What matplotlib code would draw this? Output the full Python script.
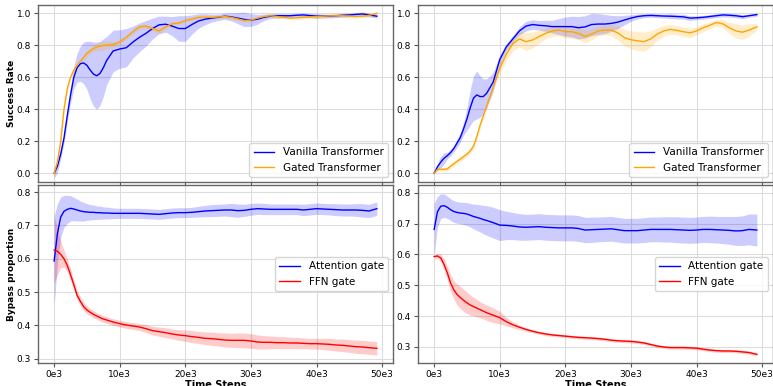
import numpy as np
import matplotlib
matplotlib.use("Agg")
import matplotlib.pyplot as plt
from matplotlib.ticker import FuncFormatter

# time steps (in thousands)
steps_k = [0, 0.5, 1, 1.5, 2, 2.5, 3, 3.5, 4, 4.5, 5, 5.5, 6, 6.5, 7, 7.5, 8,
           9, 10, 11, 12, 13, 14, 15, 16, 17, 18, 19, 20,
           21, 22, 23, 24, 25, 26, 27, 28, 29, 30, 31, 32,
           33, 34, 35, 36, 37, 38, 39, 40, 41, 42, 43, 44,
           45, 46, 47, 48, 49.2]

# ---- top left: success rate ----
tl_vanilla = [0.00, 0.045, 0.12, 0.22, 0.36, 0.49, 0.60, 0.66, 0.685, 0.69, 0.675, 0.645, 0.62, 0.61, 0.625, 0.66, 0.705,
              0.765, 0.777, 0.785, 0.82, 0.85, 0.875, 0.905, 0.928, 0.932, 0.92, 0.905, 0.905,
              0.93, 0.952, 0.963, 0.97, 0.975, 0.982, 0.978, 0.97, 0.962, 0.958, 0.963, 0.975,
              0.983, 0.985, 0.985, 0.985, 0.988, 0.99, 0.986, 0.983, 0.983, 0.983, 0.985, 0.988,
              0.99, 0.993, 0.996, 0.99, 0.982]
tl_vanilla_sd = [0.03, 0.04, 0.03, 0.03, 0.04, 0.05, 0.07, 0.09, 0.11, 0.13, 0.15, 0.18, 0.20, 0.21, 0.20, 0.18, 0.15,
                 0.13, 0.12, 0.12, 0.10, 0.09, 0.08, 0.065, 0.055, 0.05, 0.06, 0.08, 0.08,
                 0.06, 0.045, 0.035, 0.025, 0.02, 0.02, 0.025, 0.035, 0.045, 0.04, 0.03, 0.02,
                 0.015, 0.015, 0.012, 0.012, 0.012, 0.012, 0.012, 0.015, 0.012, 0.012, 0.012, 0.012,
                 0.012, 0.012, 0.012, 0.012, 0.012]
tl_gated = [0.0, 0.07, 0.20, 0.40, 0.53, 0.60, 0.645, 0.675, 0.70, 0.725, 0.75, 0.765, 0.78, 0.79, 0.795, 0.80, 0.80,
            0.805, 0.82, 0.85, 0.885, 0.915, 0.92, 0.905, 0.89, 0.915, 0.935, 0.94, 0.955,
            0.965, 0.975, 0.975, 0.975, 0.977, 0.98, 0.975, 0.965, 0.955, 0.958, 0.97, 0.98,
            0.985, 0.98, 0.975, 0.97, 0.972, 0.975, 0.978, 0.98, 0.982, 0.984, 0.985, 0.985,
            0.983, 0.98, 0.982, 0.987, 1.0]
tl_gated_sd = [0.03, 0.03, 0.02, 0.02, 0.02, 0.015, 0.015, 0.015, 0.015, 0.015, 0.02, 0.02, 0.02, 0.025, 0.03, 0.03, 0.025,
               0.02, 0.015, 0.015, 0.015, 0.015, 0.015, 0.015, 0.02, 0.015, 0.01, 0.01, 0.01,
               0.01, 0.01, 0.01, 0.01, 0.01, 0.01, 0.012, 0.012, 0.012, 0.01, 0.01, 0.01,
               0.01, 0.01, 0.01, 0.01, 0.01, 0.01, 0.01, 0.01, 0.01, 0.01, 0.01, 0.01,
               0.01, 0.01, 0.01, 0.01, 0.01]

# ---- top right: success rate ----
tr_vanilla = [0.0, 0.04, 0.07, 0.094, 0.11, 0.13, 0.155, 0.19, 0.225, 0.28, 0.34, 0.41, 0.47, 0.49, 0.48, 0.48, 0.50,
              0.57, 0.71, 0.79, 0.84, 0.89, 0.92, 0.93, 0.925, 0.922, 0.917, 0.917, 0.917,
              0.917, 0.91, 0.915, 0.93, 0.933, 0.933, 0.937, 0.945, 0.958, 0.97, 0.98, 0.985,
              0.987, 0.985, 0.983, 0.982, 0.98, 0.978, 0.97, 0.972, 0.975, 0.98, 0.985, 0.99,
              0.988, 0.985, 0.979, 0.985, 0.992]
tr_vanilla_sd = [0.0, 0.02, 0.035, 0.035, 0.02, 0.02, 0.02, 0.025, 0.03, 0.04, 0.07, 0.11, 0.14, 0.15, 0.13, 0.11, 0.09,
                 0.06, 0.03, 0.02, 0.02, 0.025, 0.03, 0.03, 0.03, 0.035, 0.04, 0.05, 0.06,
                 0.065, 0.07, 0.07, 0.07, 0.065, 0.06, 0.05, 0.04, 0.03, 0.02, 0.015, 0.012,
                 0.012, 0.012, 0.012, 0.015, 0.015, 0.015, 0.015, 0.012, 0.012, 0.012, 0.012, 0.012,
                 0.012, 0.012, 0.012, 0.01, 0.01]
tr_gated = [0.0, 0.025, 0.025, 0.025, 0.028, 0.045, 0.06, 0.075, 0.09, 0.105, 0.12, 0.14, 0.17, 0.23, 0.30, 0.36, 0.42,
            0.54, 0.656, 0.745, 0.81, 0.84, 0.823, 0.833, 0.855, 0.875, 0.89, 0.896, 0.885,
            0.885, 0.875, 0.855, 0.87, 0.89, 0.895, 0.895, 0.878, 0.848, 0.835, 0.828, 0.823,
            0.84, 0.87, 0.89, 0.90, 0.893, 0.885, 0.878, 0.89, 0.91, 0.925, 0.942, 0.935,
            0.91, 0.89, 0.882, 0.895, 0.916]
tr_gated_sd = [0.0, 0.01, 0.01, 0.012, 0.012, 0.015, 0.015, 0.015, 0.015, 0.015, 0.015, 0.015, 0.02, 0.02, 0.02, 0.02, 0.02,
               0.02, 0.03, 0.04, 0.045, 0.05, 0.055, 0.05, 0.04, 0.035, 0.035, 0.035, 0.04,
               0.04, 0.04, 0.04, 0.035, 0.03, 0.03, 0.035, 0.045, 0.05, 0.055, 0.06, 0.06,
               0.05, 0.04, 0.035, 0.03, 0.03, 0.03, 0.03, 0.025, 0.025, 0.02, 0.02, 0.025,
               0.035, 0.045, 0.045, 0.04, 0.02]

# ---- bottom left: bypass proportion ----
bl_attn = [0.593, 0.675, 0.725, 0.742, 0.748, 0.751, 0.749, 0.746, 0.743, 0.741, 0.74, 0.739, 0.739, 0.738, 0.738, 0.737, 0.737,
           0.736, 0.736, 0.736, 0.736, 0.736, 0.735, 0.734, 0.733, 0.735, 0.737, 0.738, 0.738,
           0.739, 0.741, 0.743, 0.744, 0.745, 0.746, 0.746, 0.744, 0.745, 0.748, 0.75, 0.749,
           0.748, 0.748, 0.748, 0.748, 0.748, 0.746, 0.748, 0.75, 0.749, 0.748, 0.747, 0.746,
           0.746, 0.746, 0.745, 0.743, 0.75]
bl_attn_sd = [0.135, 0.09, 0.06, 0.048, 0.042, 0.038, 0.035, 0.033, 0.03, 0.028, 0.025, 0.023, 0.022, 0.02, 0.02, 0.018, 0.018,
              0.016, 0.015, 0.015, 0.015, 0.015, 0.015, 0.015, 0.015, 0.015, 0.015, 0.015, 0.015,
              0.015, 0.016, 0.017, 0.018, 0.018, 0.018, 0.02, 0.02, 0.018, 0.018, 0.017, 0.017,
              0.016, 0.016, 0.016, 0.016, 0.016, 0.017, 0.017, 0.017, 0.017, 0.017, 0.018, 0.018,
              0.018, 0.019, 0.02, 0.02, 0.02]
bl_ffn = [0.626, 0.622, 0.613, 0.600, 0.580, 0.552, 0.522, 0.49, 0.472, 0.456, 0.446, 0.439, 0.433, 0.428, 0.423, 0.419, 0.416,
          0.41, 0.405, 0.401, 0.398, 0.395, 0.39, 0.384, 0.381, 0.378, 0.374, 0.371, 0.369,
          0.366, 0.364, 0.361, 0.36, 0.358, 0.356, 0.355, 0.355, 0.355, 0.353, 0.35, 0.349,
          0.349, 0.348, 0.348, 0.347, 0.347, 0.346, 0.345, 0.345, 0.344, 0.343, 0.341, 0.34,
          0.338, 0.336, 0.335, 0.333, 0.331]
bl_ffn_sd = [0.1, 0.07, 0.04, 0.025, 0.02, 0.018, 0.015, 0.014, 0.013, 0.012, 0.012, 0.011, 0.011, 0.01, 0.01, 0.01, 0.01,
             0.01, 0.01, 0.01, 0.01, 0.01, 0.012, 0.013, 0.014, 0.015, 0.015, 0.016, 0.017,
             0.018, 0.018, 0.019, 0.02, 0.02, 0.021, 0.021, 0.022, 0.022, 0.022, 0.021, 0.02,
             0.019, 0.018, 0.018, 0.017, 0.017, 0.016, 0.016, 0.016, 0.017, 0.018, 0.018, 0.019,
             0.019, 0.02, 0.02, 0.02, 0.02]

# ---- bottom right: bypass proportion ----
br_attn = [0.681, 0.738, 0.756, 0.758, 0.753, 0.745, 0.739, 0.736, 0.734, 0.733, 0.731, 0.727, 0.723, 0.72, 0.717, 0.713, 0.71,
           0.703, 0.695, 0.694, 0.692, 0.689, 0.688, 0.689, 0.69, 0.688, 0.687, 0.686, 0.686,
           0.686, 0.684, 0.679, 0.68, 0.681, 0.682, 0.683, 0.68, 0.677, 0.677, 0.677, 0.679,
           0.681, 0.681, 0.681, 0.681, 0.68, 0.679, 0.678, 0.679, 0.681, 0.681, 0.68, 0.679,
           0.678, 0.676, 0.677, 0.681, 0.679]
br_attn_sd = [0.085, 0.05, 0.04, 0.038, 0.036, 0.035, 0.035, 0.035, 0.035, 0.036, 0.037, 0.038, 0.04, 0.042, 0.044, 0.046, 0.048,
              0.05, 0.05, 0.046, 0.044, 0.043, 0.042, 0.042, 0.042, 0.042, 0.042, 0.042, 0.042,
              0.042, 0.042, 0.041, 0.041, 0.04, 0.04, 0.04, 0.04, 0.04, 0.04, 0.04, 0.04,
              0.04, 0.04, 0.041, 0.041, 0.042, 0.042, 0.042, 0.042, 0.042, 0.043, 0.043, 0.044,
              0.045, 0.047, 0.048, 0.05, 0.052]
br_ffn = [0.593, 0.595, 0.589, 0.568, 0.541, 0.508, 0.485, 0.47, 0.46, 0.451, 0.443, 0.436, 0.431, 0.426, 0.421, 0.416, 0.411,
          0.403, 0.395, 0.382, 0.372, 0.364, 0.357, 0.351, 0.346, 0.342, 0.339, 0.337, 0.335,
          0.333, 0.331, 0.33, 0.329, 0.327, 0.325, 0.322, 0.32, 0.319, 0.318, 0.316, 0.313,
          0.308, 0.303, 0.30, 0.298, 0.298, 0.298, 0.297, 0.296, 0.293, 0.29, 0.288, 0.287,
          0.287, 0.286, 0.284, 0.282, 0.276]
br_ffn_sd = [0.003, 0.008, 0.012, 0.018, 0.022, 0.026, 0.03, 0.034, 0.036, 0.036, 0.035, 0.033, 0.03, 0.028, 0.026, 0.025, 0.025,
             0.024, 0.02, 0.014, 0.01, 0.007, 0.006, 0.005, 0.005, 0.005, 0.005, 0.005, 0.005,
             0.005, 0.005, 0.005, 0.005, 0.005, 0.005, 0.005, 0.005, 0.005, 0.005, 0.005, 0.005,
             0.005, 0.005, 0.005, 0.005, 0.005, 0.005, 0.005, 0.005, 0.005, 0.005, 0.005, 0.005,
             0.005, 0.005, 0.005, 0.005, 0.005]

x = np.array(steps_k) * 1000

fig = plt.figure(figsize=(7.73, 3.86), dpi=100)
W, H = 773, 386
def box(l, t, r, b):
    return [l / W, 1 - b / H, (r - l) / W, (b - t) / H]

ax_tl = fig.add_axes(box(38, 5, 393, 182))
ax_tr = fig.add_axes(box(418, 5, 773, 182), sharex=ax_tl)
ax_bl = fig.add_axes(box(38, 185, 393, 363), sharex=ax_tl)
ax_br = fig.add_axes(box(418, 185, 773, 363), sharex=ax_tl)

def band(ax, mean, sd, color, label):
    m = np.array(mean)
    s = np.array(sd)
    ax.plot(x, m, color=color, lw=1.0, label=label)
    ax.fill_between(x, m - s, m + s, color=color, alpha=0.2, lw=0)

band(ax_tl, tl_vanilla, tl_vanilla_sd, 'blue', 'Vanilla Transformer')
band(ax_tl, tl_gated, tl_gated_sd, 'orange', 'Gated Transformer')
band(ax_tr, tr_vanilla, tr_vanilla_sd, 'blue', 'Vanilla Transformer')
band(ax_tr, tr_gated, tr_gated_sd, 'orange', 'Gated Transformer')
band(ax_bl, bl_attn, bl_attn_sd, 'blue', 'Attention gate')
band(ax_bl, bl_ffn, bl_ffn_sd, 'red', 'FFN gate')
band(ax_br, br_attn, br_attn_sd, 'blue', 'Attention gate')
band(ax_br, br_ffn, br_ffn_sd, 'red', 'FFN gate')

fmt = FuncFormatter(lambda v, p: f'{int(round(v / 1000))}e3')
for ax in (ax_tl, ax_tr, ax_bl, ax_br):
    ax.grid(True, color='#dddddd', lw=0.8)
    ax.set_axisbelow(True)
    ax.tick_params(labelsize=6.5, color='#555555', length=3, width=0.8, pad=2)
    for sp in ax.spines.values():
        sp.set_color('#666666')
        sp.set_linewidth(1.0)
    ax.xaxis.set_major_formatter(fmt)

ax_tl.set_ylim(-0.054, 1.052)
ax_tr.set_ylim(-0.054, 1.052)
ax_tl.set_yticks([0.0, 0.2, 0.4, 0.6, 0.8, 1.0])
ax_tr.set_yticks([0.0, 0.2, 0.4, 0.6, 0.8, 1.0])
ax_bl.set_ylim(0.287, 0.821)
ax_br.set_ylim(0.248, 0.825)
ax_bl.set_yticks([0.3, 0.4, 0.5, 0.6, 0.7, 0.8])
ax_br.set_yticks([0.3, 0.4, 0.5, 0.6, 0.7, 0.8])
ax_tl.set_xticks([0, 10000, 20000, 30000, 40000, 50000])

ax_tl.tick_params(labelbottom=False)
ax_tr.tick_params(labelbottom=False)

ax_tl.set_ylabel('Success Rate', fontsize=6.5, fontweight='bold')
ax_bl.set_ylabel('Bypass proportion', fontsize=6.5, fontweight='bold')
ax_tl.yaxis.set_label_coords(-0.062, 0.5)
ax_bl.yaxis.set_label_coords(-0.062, 0.5)
ax_bl.set_xlabel('Time Steps', fontsize=7, fontweight='bold', labelpad=1)
ax_br.set_xlabel('Time Steps', fontsize=7, fontweight='bold', labelpad=1)

ax_tl.legend(loc='lower right', fontsize=7.5)
ax_tr.legend(loc='lower right', fontsize=7.5)
ax_bl.legend(loc='center right', fontsize=7.5)
ax_br.legend(loc='center right', fontsize=7.5)

fig.savefig('out.png', dpi=100)
